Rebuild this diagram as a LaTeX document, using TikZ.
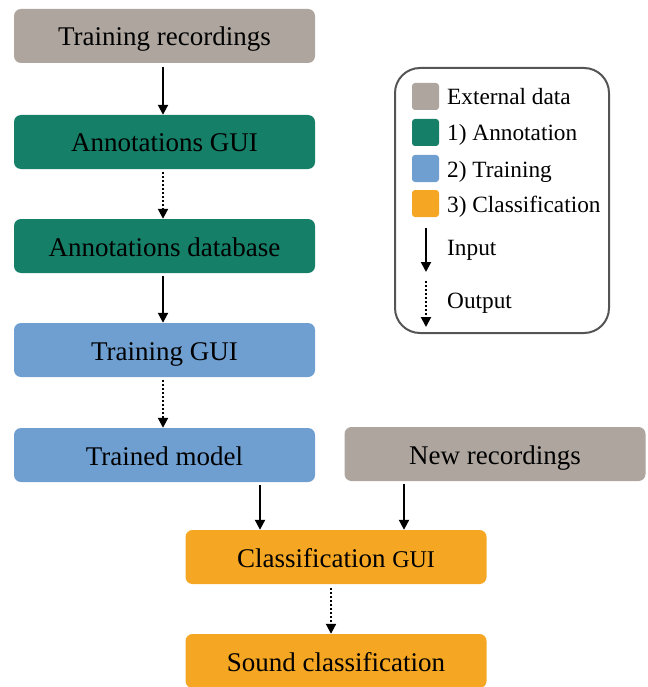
\documentclass[tikz,border=0pt]{standalone}
\usepackage{fontspec}
\setmainfont{Liberation Serif}
\usetikzlibrary{arrows.meta}
\definecolor{extgray}{HTML}{ADA59E}
\definecolor{anngreen}{HTML}{157F68}
\definecolor{trainblue}{HTML}{6F9FD1}
\definecolor{classorange}{HTML}{F5A623}
\definecolor{legframe}{HTML}{555555}
\tikzset{
  box/.style={rounded corners=7pt, minimum width=301pt, minimum height=54pt, inner sep=0pt, text height=23pt, text depth=3pt, font=\fontsize{27}{31}\selectfont, text=black},
  inarrow/.style={line width=2pt, -{Triangle[length=10pt,width=10pt]}},
  outarrow/.style={line width=2pt, dash pattern=on 2pt off 2pt, -{Triangle[length=10pt,width=10pt]}},
  swatch/.style={rounded corners=3pt, minimum width=27pt, minimum height=27pt, inner sep=0pt},
  legtext/.style={anchor=base west, font=\fontsize{23.3}{27}\selectfont, inner sep=0pt}
}
\begin{document}
\begin{tikzpicture}[x=1pt,y=-1pt]
\useasboundingbox (0,0) rectangle (647,687);
\node[box, fill=extgray] (tr) at (164.5,36) {Training recordings};
\node[box, fill=anngreen] (ag) at (164.5,142) {Annotations GUI};
\node[box, fill=anngreen] (ad) at (164.5,246) {Annotations database};
\node[box, fill=trainblue] (tg) at (164.5,350) {Training GUI};
\node[box, fill=trainblue] (tm) at (164.5,455) {Trained model};
\node[box, fill=extgray] (nr) at (495,454) {New recordings};
\node[box, fill=classorange] (cg) at (336,557) {Classification {\fontsize{24}{28}\selectfont GUI}};
\node[box, fill=classorange] (sc) at (336,661) {Sound classification};
% arrows
\coordinate (c1) at (163,67);
\coordinate (c2) at (163,172);
\coordinate (c3) at (163,276);
\coordinate (c4) at (163,380);
\draw[inarrow] (c1) -- (c1 |- ag.north);
\draw[outarrow] (c2) -- (c2 |- ad.north);
\draw[inarrow] (c3) -- (c3 |- tg.north);
\draw[outarrow] (c4) -- (c4 |- tm.north);
\coordinate (a1) at (260,485);
\coordinate (a2) at (404,484);
\coordinate (a3) at (331,588);
\draw[inarrow] (a1) -- (a1 |- cg.north);
\draw[inarrow] (a2) -- (a2 |- cg.north);
\draw[outarrow] (a3) -- (a3 |- sc.north);
% legend
\node[draw=legframe, line width=2pt, rounded corners=25pt, minimum width=214pt, minimum height=265pt, inner sep=0pt] (leg) at (502,200.5) {};
\node[swatch, fill=extgray] (s1) at (425.5,96.5) {};
\node[swatch, fill=anngreen] (s2) at (425.5,132.5) {};
\node[swatch, fill=trainblue] (s3) at (425.5,168.5) {};
\node[swatch, fill=classorange] (s4) at (425.5,203.5) {};
\node[legtext] (l1) at (447,105) {External data};
\node[legtext] (l2) at (447,141) {1) Annotation};
\node[legtext] (l3) at (447,177) {2) Training};
\node[legtext] (l4) at (447,212.5) {3) Classification};
\coordinate (i1) at (426,228);
\coordinate (i2) at (426,272);
\coordinate (o1) at (426,281);
\coordinate (o2) at (426,327);
\draw[inarrow] (i1) -- (i2);
\draw[outarrow] (o1) -- (o2);
\node[legtext] (l5) at (447,255) {Input};
\node[legtext] (l6) at (447,308) {Output};
\end{tikzpicture}
\end{document}
